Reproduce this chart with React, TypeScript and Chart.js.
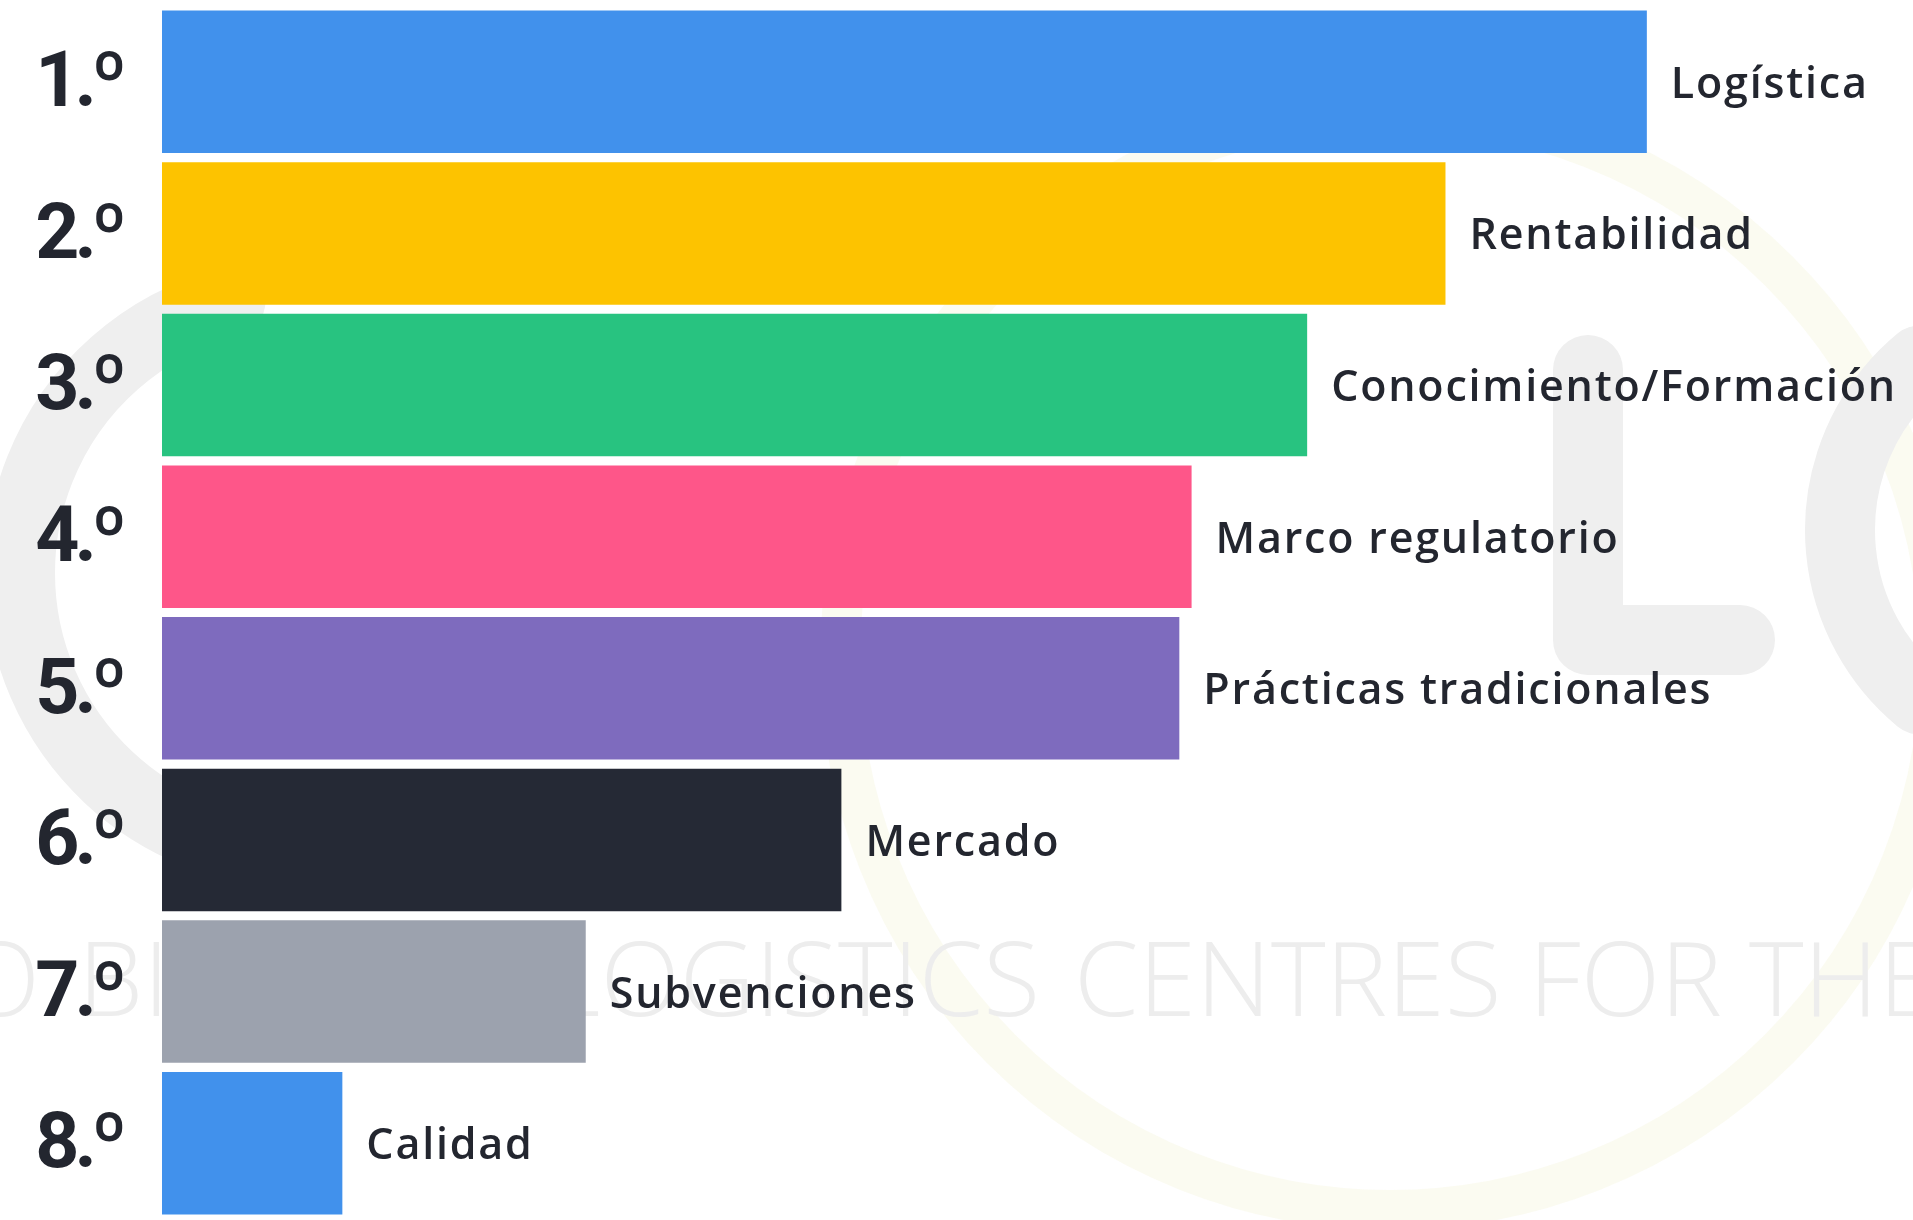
import React, { useEffect, useRef } from "react";
import { Chart, registerables } from "chart.js";

Chart.register(...registerables);

const ranks = ["1.º", "2.º", "3.º", "4.º", "5.º", "6.º", "7.º", "8.º"];
const categories = [
  "Logística",
  "Rentabilidad",
  "Conocimiento/Formación",
  "Marco regulatorio",
  "Prácticas tradicionales",
  "Mercado",
  "Subvenciones",
  "Calidad",
];
const values = [84.8, 73.3, 65.4, 58.8, 58.1, 38.8, 24.2, 10.3];
const colors = [
  "#4191EC",
  "#FDC300",
  "#28C380",
  "#FE5689",
  "#7E6BBE",
  "#252935",
  "#9CA2AE",
  "#4191EC",
];

const watermarkPlugin = {
  id: "watermark",
  beforeDraw(chart: any) {
    const ctx = chart.ctx;
    ctx.save();
    ctx.fillStyle = "#ffffff";
    ctx.fillRect(0, 0, chart.width, chart.height);
    // faint yellow circle
    ctx.strokeStyle = "rgba(240,240,200,0.25)";
    ctx.lineWidth = 40;
    ctx.beginPath();
    ctx.arc(1390, 660, 550, 0, Math.PI * 2);
    ctx.stroke();
    // grey letter shapes
    ctx.strokeStyle = "#efefef";
    ctx.lineCap = "round";
    ctx.lineJoin = "round";
    ctx.lineWidth = 70;
    ctx.beginPath();
    ctx.moveTo(1588, 370);
    ctx.lineTo(1588, 640);
    ctx.lineTo(1740, 640);
    ctx.stroke();
    ctx.beginPath();
    ctx.arc(2060, 530, 220, Math.PI * 0.72, Math.PI * 1.28);
    ctx.stroke();
    ctx.beginPath();
    ctx.arc(300, 573, 280, Math.PI * 0.62, Math.PI * 1.42);
    ctx.stroke();
    // watermark text
    ctx.fillStyle = "#ededed";
    ctx.font = '300 104px "Open Sans", sans-serif';
    ctx.textBaseline = "alphabetic";
    ctx.textAlign = "left";
    ctx.fillText("CENTRES FOR THE", 1074, 1016);
    ctx.fillText("BIO", 78, 1016);
    ctx.textAlign = "right";
    ctx.fillText("LOGISTICS", 1040, 1016);
    ctx.fillText("AGRO", 40, 1016);
    ctx.restore();
    // tighter spacing for the rank labels drawn by the y axis
    (ctx as any).letterSpacing = "-5px";
  },
  beforeDatasetsDraw(chart: any) {
    (chart.ctx as any).letterSpacing = "0px";
  },
};

const barLabelPlugin = {
  id: "barLabels",
  afterDatasetsDraw(chart: any) {
    const ctx = chart.ctx;
    const meta = chart.getDatasetMeta(0);
    ctx.save();
    ctx.fillStyle = "#23262F";
    ctx.font = '600 43px "Open Sans", sans-serif';
    (ctx as any).letterSpacing = "1.8px";
    ctx.textAlign = "left";
    ctx.textBaseline = "alphabetic";
    meta.data.forEach((bar: any, i: number) => {
      ctx.fillText(categories[i], bar.x + 24, bar.y + 16);
    });
    ctx.restore();
  },
};

export default function App() {
  const canvasRef = useRef<HTMLCanvasElement | null>(null);

  useEffect(() => {
    if (!canvasRef.current) return;
    const chart = new Chart(canvasRef.current, {
      type: "bar",
      data: {
        labels: ranks,
        datasets: [
          {
            data: values,
            backgroundColor: colors,
            borderWidth: 0,
            categoryPercentage: 1,
            barPercentage: 0.94,
          },
        ],
      },
      options: {
        indexAxis: "y",
        animation: false,
        responsive: true,
        maintainAspectRatio: false,
        layout: { padding: { top: 6, bottom: 1, left: 0, right: 0 } },
        plugins: {
          legend: { display: false },
          tooltip: { enabled: false },
        },
        scales: {
          x: {
            display: false,
            min: 0,
            max: 100,
          },
          y: {
            grid: { display: false, drawTicks: false, tickLength: 0 },
            border: { display: false },
            afterFit(scale: any) {
              scale.width = 162;
              scale.paddingTop = 0;
              scale.paddingBottom = 0;
            },
            ticks: {
              padding: 40,
              labelOffset: 5,
              color: "#23262F",
              font: { family: "Roboto", weight: "bold", size: 77 },
            },
          },
        },
      },
      plugins: [watermarkPlugin, barLabelPlugin],
    });
    return () => chart.destroy();
  }, []);

  return (
    <div
      style={{
        position: "absolute",
        left: 0,
        top: 0,
        width: 1913,
        height: 1220,
        background: "#ffffff",
      }}
    >
      <canvas ref={canvasRef} />
    </div>
  );
}
